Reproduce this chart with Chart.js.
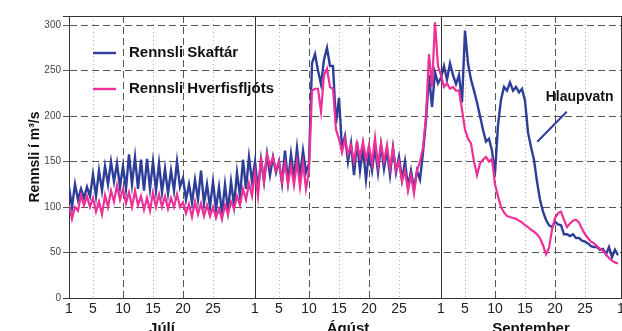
<!DOCTYPE html>
<html><head><meta charset="utf-8">
<script src="https://cdn.jsdelivr.net/npm/chart.js@4.4.1/dist/chart.umd.min.js"></script>
<style>
html,body{margin:0;padding:0;background:#fff;overflow:hidden;width:622px;height:331px}
#wrap{position:absolute;left:0;top:0;width:640px;height:345px}
</style></head><body>
<div id="wrap"><canvas id="c" width="640" height="345"></canvas></div>
<script>
// ---- data ----
const months = ['Júlí', 'Ágúst', 'September'];
const monthStart = [0, 31, 62];      // day offset from 1 July
const monthLength = [31, 31, 30];
const dayTicks = [1, 5, 10, 15, 20, 25];
const yTicks = [0, 50, 100, 150, 200, 250, 300];
const seriesNames = ['Rennsli Skaftár', 'Rennsli Hverfisfljóts'];
// two readings per day (00h, 12h), m3/s
const skaftarJul = [122,100, 125,108, 120,110, 122,112, 136,112, 140,118, 145,125, 150,128, 148,122, 145,120,
  158,125, 155,120, 152,118, 153,120, 150,118, 148,116, 142,115, 140,118, 150,122, 132,108,
  125,105, 130,108, 140,104, 125,100, 128,98, 122,93, 125,96, 128,102, 138,112, 152,120, 155,128];
const skaftarAug = [150,118, 152,128, 158,135, 155,138, 150,126, 162,128, 158,132, 165,134, 162,138, 148,258,
  268,250, 235,262, 275,255, 255,192, 220,165, 178,150, 170,135, 172,140, 165,130, 160,140,
  165,138, 168,142, 162,135, 165,138, 155,130, 150,122, 140,120, 140,130, 160,195, 245,210, 248,236];
const skaftarSep = [242,255, 240,258, 245,235, 245,215, 294,258, 240,228, 215,200, 185,172, 175,162, 137,190,
  218,232, 228,237, 228,232, 226,230, 217,182, 166,152, 128,108, 95,86, 80,78, 84,81,
  80,70, 70,68, 70,66, 66,63, 62,60, 57,56, 56,53, 54,48, 56,45, 53,47];
const hverfisJul = [102,87, 100,96, 113,102, 112,100, 110,95, 106,92, 113,100, 118,106, 124,108, 120,104,
  116,100, 118,102, 112,97, 110,96, 116,100, 114,100, 112,98, 110,100, 114,100, 105,93,
  103,89, 106,92, 104,90, 102,90, 100,88, 98,87, 102,92, 106,98, 112,102, 120,108, 126,112];
const hverfisAug = [138,112, 155,128, 158,145, 155,140, 150,128, 148,125, 145,124, 150,122, 148,120, 140,228,
  230,230, 205,245, 252,232, 230,185, 175,160, 175,158, 168,150, 170,155, 172,152, 168,148,
  176,145, 170,150, 168,142, 165,140, 150,128, 140,118, 135,115, 140,150, 165,200, 268,232, 303,255];
const hverfisSep = [245,232, 236,230, 232,228, 228,207, 185,175, 170,150, 135,148, 152,155, 150,153, 125,112,
  100,94, 90,89, 88,87, 85,83, 80,78, 75,73, 70,66, 58,48, 55,75, 88,93,
  95,86, 78,82, 85,86, 83,76, 70,66, 62,60, 57,54, 52,48, 44,41, 39,38];

// ---- build ----
function build(parts) {
  const pts = [];
  parts.forEach((arr, m) => arr.forEach((v, i) => pts.push({x: monthStart[m] + i * 0.5, y: v})));
  return pts;
}
const endDay = monthStart[2] + monthLength[2];
const xTickVals = [];
monthStart.forEach(s => dayTicks.forEach(d => xTickVals.push(s + d - 1)));
xTickVals.push(endDay);
function dayOf(v) {
  if (v >= endDay) return 1;
  let m = 0;
  for (let i = 0; i < monthStart.length; i++) if (v >= monthStart[i]) m = i;
  return Math.round(v - monthStart[m] + 1);
}
const monthMid = monthStart.map((s, i) => s + monthLength[i] / 2);

const FONT = "'Liberation Sans', Arial, sans-serif";
const BLUE = '#2e3d97', PINK = '#ee2f98';

const annot = {
  id: 'annot',
  afterDatasetsDraw(chart) {
    const {ctx, chartArea: a, scales: {x, y}} = chart;
    ctx.save();
    ctx.lineWidth = 2.4;
    ctx.font = 'bold 15px ' + FONT;
    ctx.textBaseline = 'middle';
    ctx.fillStyle = '#111';
    [[BLUE, 37, seriesNames[0]], [PINK, 73, seriesNames[1]]].forEach(([c, dy, t]) => {
      ctx.strokeStyle = c;
      ctx.beginPath(); ctx.moveTo(a.left + 24, a.top + dy); ctx.lineTo(a.left + 47, a.top + dy); ctx.stroke();
      ctx.fillText(t, a.left + 60, a.top + dy);
    });
    ctx.textAlign = 'center';
    ctx.font = 'bold 14px ' + FONT;
    ctx.fillText('Hlaupvatn', x.getPixelForValue(85.1), y.getPixelForValue(221));
    ctx.strokeStyle = BLUE; ctx.lineWidth = 2;
    ctx.beginPath();
    ctx.moveTo(x.getPixelForValue(82.95), y.getPixelForValue(204.7));
    ctx.lineTo(x.getPixelForValue(78.05), y.getPixelForValue(171.8));
    ctx.stroke();
    ctx.restore();
  }
};

new Chart(document.getElementById('c'), {
  type: 'line',
  data: {
    datasets: [
      {label: seriesNames[0], data: build([skaftarJul, skaftarAug, skaftarSep]), borderColor: BLUE, borderWidth: 2.4, pointRadius: 0, tension: 0, order: 1},
      {label: seriesNames[1], data: build([hverfisJul, hverfisAug, hverfisSep]), borderColor: PINK, borderWidth: 2.2, pointRadius: 0, tension: 0, order: 0}
    ]
  },
  options: {
    responsive: false, animation: false, events: [],
    layout: {padding: {top: 16, right: 19, left: 0, bottom: 0}},
    plugins: {legend: {display: false}, tooltip: {enabled: false}},
    scales: {
      x: {
        type: 'linear', min: 0, max: endDay, position: 'bottom',
        afterBuildTicks: s => { s.ticks = xTickVals.map(v => ({value: v})); },
        afterFit: s => { s.height = 20; },
        ticks: {autoSkip: false, maxRotation: 0, padding: 3, color: '#222', font: {family: FONT, size: 14},
          callback: v => String(dayOf(v))},
        grid: {
          drawTicks: false, lineWidth: 1,
          color: c => { const d = c.tick ? dayOf(c.tick.value) : 1; return d === 1 ? '#333' : (d % 10 === 0 ? '#555' : '#b5b5b5'); }
        },
        border: {display: true, color: '#333', width: 1,
          dash: c => { if (!c.tick) return []; const d = dayOf(c.tick.value); return d === 1 ? [] : (d % 10 === 0 ? [7, 4] : [1, 3]); }}
      },
      xm: {
        type: 'linear', min: 0, max: endDay, position: 'bottom',
        afterBuildTicks: s => { s.ticks = monthMid.map(v => ({value: v})); },
        afterFit: s => { s.height = 27; },
        ticks: {autoSkip: false, maxRotation: 0, padding: 2, color: '#111', font: {family: FONT, size: 15, weight: 'bold'},
          callback: v => months[monthMid.indexOf(v)]},
        grid: {display: false, drawTicks: false},
        border: {display: false}
      },
      y: {
        min: 0, max: 310,
        afterBuildTicks: s => { s.ticks = yTicks.concat([310]).map(v => ({value: v})); },
        afterFit: s => { s.width = 69; },
        ticks: {padding: 2, color: '#444', font: {family: FONT, size: 10}, callback: v => v === 310 ? '' : String(v)},
        grid: {
          lineWidth: 1, tickLength: 6,
          color: c => (c.tick && (c.tick.value === 0 || c.tick.value === 310)) ? '#333' : '#555'
        },
        border: {display: true, color: '#333', width: 1,
          dash: c => (c.tick && c.tick.value > 0 && c.tick.value < 310) ? [7, 4] : []},
        title: {display: true, text: 'Rennsli í m³/s', color: '#111', font: {family: FONT, size: 14, weight: 'bold'}, padding: {top: 27, bottom: 0}}
      }
    }
  },
  plugins: [annot]
});
</script>
</body></html>
